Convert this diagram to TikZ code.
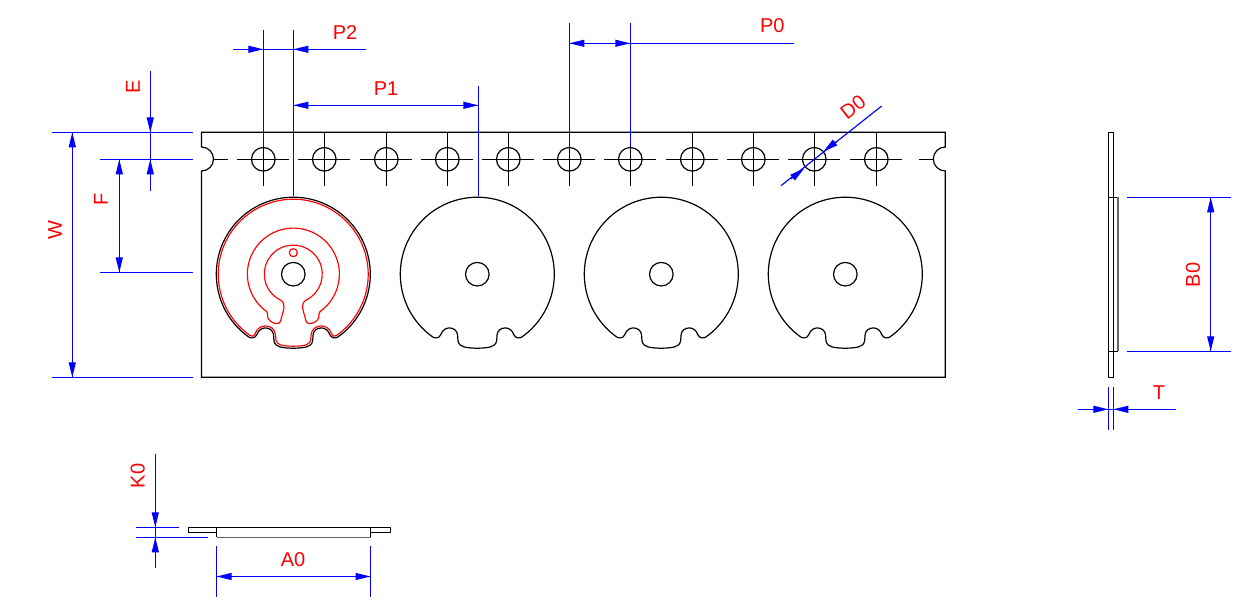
\documentclass[tikz,border=0pt]{standalone}
\usepackage{fontspec}
\setmainfont{Liberation Sans}
\usetikzlibrary{arrows.meta}
\definecolor{dimblue}{RGB}{0,0,255}
\definecolor{dimred}{RGB}{255,0,0}
\tikzset{
  outline/.style={draw=black,line width=1.2pt},
  pocketedge/.style={draw=black!60,line width=1.6pt},
  redline/.style={draw=dimred,line width=1.15pt},
  dimline/.style={draw=dimblue,line width=1.15pt},
  dimarrow/.style={draw=dimblue,line width=1.15pt,-{Triangle[length=15pt,width=7pt,fill=dimblue]}},
  dimtext/.style={text=dimred,inner sep=0pt,font=\fontsize{20}{20}\selectfont}
}
\newcommand{\diskpath}{
  (-44.7,62.7) arc[start angle=125.5,end angle=414.5,radius=77]
  .. controls (42.5,64.3) and (38.5,64.5) .. (36.5,60.5)
  .. controls (35,56) and (31.5,53.7) .. (28,53.7)
  .. controls (23.5,53.7) and (20,56.5) .. (19.7,61)
  .. controls (19.5,64) and (19.5,65) .. (19.3,66.7)
  .. controls (18.8,70) and (16,72.3) .. (13,72.8)
  .. controls (9,73.7) and (4,74) .. (0,74)
  .. controls (-4,74) and (-9,73.7) .. (-13,72.8)
  .. controls (-16,72.3) and (-18.8,70) .. (-19.3,66.7)
  .. controls (-19.5,65) and (-19.5,64) .. (-19.7,61)
  .. controls (-20,56.5) and (-23.5,53.7) .. (-28,53.7)
  .. controls (-31.5,53.7) and (-35,56) .. (-36.5,60.5)
  .. controls (-38.5,64.5) and (-42.5,64.3) .. (-44.7,62.7) -- cycle
}
\begin{document}
\begin{tikzpicture}[x=1pt,y=-1pt]
\useasboundingbox (0,0) rectangle (1258,601);
% strip
\draw[outline] (201.5,132.3) -- (945.3,132.3) -- (945.3,147)
  arc[start angle=-90,end angle=-270,radius=12] -- (945.3,377.3) -- (201.5,377.3) -- (201.5,171)
  arc[start angle=90,end angle=-90,radius=12] -- cycle;
% sprocket holes
\foreach \c in {263.3,324.3,386.3,447.3,508.3,569.3,630.3,692.3,753.3,814.3,876.3}{
  \draw[outline] (\c,159.3) circle[radius=11.8];
  \draw[outline] (\c-26,159.3) -- (\c+26,159.3);
}
\foreach \c in {324.3,386.3,447.3,508.3,692.3,753.3,814.3,876.3}{
  \draw[outline] (\c,132.3) -- (\c,186);
}
\foreach \c in {263.3,569.3,630.3}{
  \draw[outline] (\c,147.5) -- (\c,186);
}
\draw[outline] (213.7,159.3) -- (228,159.3);
\draw[outline] (919,159.3) -- (933.2,159.3);
% disks
\foreach \c in {293.3,477.3,661.3,845.3}{
  \begin{scope}[shift={(\c,274.2)}]
    \draw[outline] \diskpath;
    \draw[outline] (0,0) circle[radius=11.8];
  \end{scope}
}
% red contour on the first disk
\begin{scope}[shift={(293.3,274.2)}]
  \draw[redline] (-43.3,61.3) arc[start angle=125.2,end angle=414.8,radius=75]
    .. controls (41.5,62.5) and (39.5,62.5) .. (38.3,59.5)
    .. controls (36.5,54.5) and (32.5,51.7) .. (28,51.7)
    .. controls (22.5,51.7) and (18.2,55) .. (17.7,61)
    .. controls (17.5,64) and (17.5,65) .. (17.3,66.2)
    .. controls (16.8,68.5) and (14.8,69.8) .. (12.5,70.8)
    .. controls (8,71.8) and (4,72) .. (0,72)
    .. controls (-4,72) and (-8,71.8) .. (-12.5,70.8)
    .. controls (-14.8,69.8) and (-16.8,68.5) .. (-17.3,66.2)
    .. controls (-17.5,65) and (-17.5,64) .. (-17.7,61)
    .. controls (-18.2,55) and (-22.5,51.7) .. (-28,51.7)
    .. controls (-32.5,51.7) and (-36.5,54.5) .. (-38.3,59.5)
    .. controls (-39.5,62.5) and (-41.5,62.5) .. (-43.3,61.3) -- cycle;
  \draw[redline] (-26.7,37.3) arc[start angle=125.6,end angle=414.4,radius=46]
    .. controls (25.5,38.5) and (25.6,40) .. (25.7,42)
    .. controls (25.7,45.5) and (22,48) .. (19,49)
    .. controls (15,50) and (13.3,49) .. (12.5,46)
    .. controls (11,40) and (9.5,36) .. (9.3,33)
    .. controls (9,30) and (10,27.5) .. (13,25.8)
    arc[start angle=63.3,end angle=-243.3,radius=29]
    .. controls (-10,27.5) and (-9,30) .. (-9.3,33)
    .. controls (-9.5,36) and (-11,40) .. (-12.5,46)
    .. controls (-13.3,49) and (-15,50) .. (-19,49)
    .. controls (-22,48) and (-25.7,45.5) .. (-25.7,42)
    .. controls (-25.6,40) and (-25.5,38.5) .. (-26.7,37.3) -- cycle;
  \draw[redline] (0,-21.5) circle[radius=4];
\end{scope}
% bottom side view
\draw[outline] (216.5,532.3) -- (188.3,532.3) -- (188.3,527.3) -- (390.7,527.3) -- (390.7,532.3) -- (370.5,532.3);
\draw[outline] (216.5,527.3) -- (216.5,537.3);
\draw[outline] (370.5,527.3) -- (370.5,537.3);
\draw[pocketedge] (216.5,537.5) -- (370.5,537.5);
% right side view
\draw[outline] (1108.3,132.3) rectangle (1113.3,377.3);
\draw[outline] (1108.3,197.3) -- (1117.7,197.3);
\draw[outline] (1108.3,351.3) -- (1117.7,351.3);
\draw[pocketedge] (1117.9,197.3) -- (1117.9,351.3);
% extension and dimension lines
\draw[dimline] (52,132.3) -- (193,132.3);
\draw[dimline] (100,159.3) -- (193,159.3);
\draw[dimline] (100,272.3) -- (193,272.3);
\draw[dimline] (52,377.3) -- (193,377.3);
\draw[dimline] (150.3,71) -- (150.3,191);
\draw[dimarrow] (150.3,117) -- (150.3,132.3);
\draw[dimarrow] (150.3,175) -- (150.3,159.3);
\draw[dimline] (72.3,132.3) -- (72.3,377.3);
\draw[dimarrow] (72.3,148) -- (72.3,132.3);
\draw[dimarrow] (72.3,362) -- (72.3,377.3);
\draw[dimline] (119.3,159.3) -- (119.3,272.3);
\draw[dimarrow] (119.3,175) -- (119.3,159.3);
\draw[dimarrow] (119.3,257) -- (119.3,272.3);
% P2
\draw[dimline] (263.3,30) -- (263.3,147.5);
\draw[dimline] (293.3,30) -- (293.3,196.5);
\draw[dimline] (233,49.3) -- (366,49.3);
\draw[dimarrow] (248,49.3) -- (263.3,49.3);
\draw[dimarrow] (309,49.3) -- (293.3,49.3);
% P1
\draw[dimline] (478.3,86) -- (478.3,196.5);
\draw[dimline] (293.3,105.3) -- (478.3,105.3);
\draw[dimarrow] (309,105.3) -- (293.3,105.3);
\draw[dimarrow] (463,105.3) -- (478.3,105.3);
% P0
\draw[dimline] (569.3,23.5) -- (569.3,147.5);
\draw[dimline] (630.3,23.5) -- (630.3,147.5);
\draw[dimline] (569.3,43.3) -- (793.5,43.3);
\draw[dimarrow] (585,43.3) -- (569.3,43.3);
\draw[dimarrow] (615,43.3) -- (630.3,43.3);
% D0
\draw[dimline] (781,185.7) -- (881.7,106);
\draw[dimarrow] (836.5,141.3) -- (823.3,151.7);
\draw[dimarrow] (791,178.9) -- (804.3,168.3);
% K0
\draw[dimline] (136,527.3) -- (179,527.3);
\draw[dimline] (136,537.3) -- (208,537.3);
\draw[dimline] (155.3,454) -- (155.3,567.5);
\draw[dimarrow] (155.3,512) -- (155.3,527.3);
\draw[dimarrow] (155.3,553) -- (155.3,537.3);
% A0
\draw[dimline] (216.5,546) -- (216.5,596.5);
\draw[dimline] (370.5,546) -- (370.5,596.5);
\draw[dimline] (216.5,576.5) -- (370.5,576.5);
\draw[dimarrow] (232,576.5) -- (216.5,576.5);
\draw[dimarrow] (355,576.5) -- (370.5,576.5);
% B0
\draw[dimline] (1127,197.3) -- (1231,197.3);
\draw[dimline] (1127,351.3) -- (1231,351.3);
\draw[dimline] (1210.7,197.3) -- (1210.7,351.3);
\draw[dimarrow] (1210.7,213) -- (1210.7,197.3);
\draw[dimarrow] (1210.7,336) -- (1210.7,351.3);
% T
\draw[dimline] (1108.3,387) -- (1108.3,430);
\draw[dimline] (1113.3,387) -- (1113.3,430);
\draw[dimline] (1078,409.3) -- (1176,409.3);
\draw[dimarrow] (1093,409.3) -- (1108.3,409.3);
\draw[dimarrow] (1129,409.3) -- (1113.3,409.3);
% labels
\node[dimtext] (lblP2) at (345,32.7) {P2};
\node[dimtext] (lblP1) at (386,89) {P1};
\node[dimtext] (lblP0) at (772.3,25.7) {P0};
\node[dimtext,rotate=90] (lblE) at (133,86.7) {E};
\node[dimtext,rotate=90] (lblF) at (101,199) {F};
\node[dimtext,rotate=90] (lblW) at (55,230) {W};
\node[dimtext,rotate=90] (lblK) at (137.7,476) {K0};
\node[dimtext] (lblA) at (293,559.5) {A0};
\node[dimtext,rotate=90] (lblB) at (1193,275) {B0};
\node[dimtext] (lblT) at (1159,392.5) {T};
\node[dimtext,rotate=38] (lblD) at (853,107) {D0};
\end{tikzpicture}
\end{document}
